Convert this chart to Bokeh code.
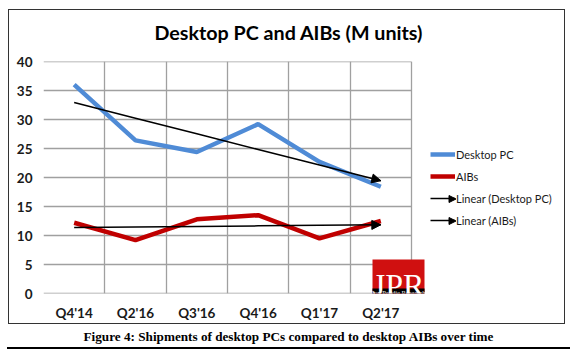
import numpy as np
from bokeh.plotting import figure
from bokeh.layouts import column
from bokeh.models import (FixedTicker, Legend, LegendItem, Label, BoxAnnotation,
                          Arrow, NormalHead, Range1d, Div)
from bokeh.embed import file_html
from bokeh.resources import INLINE

# ---- data ----
categories = ["Q4'14", "Q2'16", "Q3'16", "Q4'16", "Q1'17", "Q2'17"]
desktop_pc = [36.0, 26.4, 24.4, 29.2, 22.7, 18.4]
aibs = [12.2, 9.2, 12.8, 13.5, 9.5, 12.5]
y_ticks = [0, 5, 10, 15, 20, 25, 30, 35, 40]
title_text = "Desktop PC and AIBs (M units)"
caption_text = "Figure 4: Shipments of desktop PCs compared to desktop AIBs over time"

n = len(categories)
x = list(range(1, n + 1))

W, H = 557, 315
FL, FT, FR, FB = 34, 50, 1, 32
frame_w = W - FL - FR
px_per_cat = 61.33
x_end = 0.5 + frame_w / px_per_cat   # frame extends right to hold the legend

p = figure(width=W, height=H, output_backend="svg", toolbar_location=None,
           x_range=Range1d(0.5, x_end), y_range=Range1d(y_ticks[0], y_ticks[-1]),
           min_border_left=FL, min_border_top=FT, min_border_right=FR, min_border_bottom=FB)
p.outline_line_color = None
p.background_fill_color = "white"
p.border_fill_color = "white"
p.styles = {"border": "1.5px solid #333333"}

LABEL_FONT = "Lato"
TXT = "#1a1a1a"

p.title.text = title_text
p.title.text_font = LABEL_FONT
p.title.text_font_style = "bold"
p.title.text_font_size = "19.7px"
p.title.text_color = "black"
p.title.align = "left"
p.title.offset = 111
try:
    p.title.padding = dict(left=0, right=0, top=0, bottom=10)
    p.title.standoff = 16
except Exception:
    p.title.standoff = 26

p.xaxis.ticker = FixedTicker(ticks=x)
p.xaxis.major_label_overrides = {i: c for i, c in zip(x, categories)}
p.yaxis.ticker = FixedTicker(ticks=y_ticks)
for ax in (p.xaxis, p.yaxis):
    ax.axis_line_color = None
    ax.major_tick_line_color = None
    ax.minor_tick_line_color = None
    ax.major_tick_out = 0
    ax.major_tick_in = 0
    ax.minor_tick_out = 0
    ax.minor_tick_in = 0
    ax.major_label_text_font = LABEL_FONT
    ax.major_label_text_font_style = "bold"
    ax.major_label_text_font_size = "13.5px"
    ax.major_label_text_color = TXT
p.xaxis.major_label_standoff = 11
p.yaxis.major_label_standoff = 11

GRID = "#a0a0a0"
p.xgrid.ticker = FixedTicker(ticks=[i + 0.5 for i in range(0, n + 1)])
p.xgrid.grid_line_color = GRID
p.xgrid.grid_line_width = 1.3
p.ygrid.visible = False
p.segment(x0=[0.5] * len(y_ticks), x1=[n + 0.5] * len(y_ticks), y0=y_ticks, y1=y_ticks,
          line_color=GRID, line_width=1.3)

r_pc = p.line(x, desktop_pc, line_color="#4f8bd6", line_width=4.5)
r_aib = p.line(x, aibs, line_color="#c00000", line_width=4.5)

# linear trendlines
xa = np.array(x, dtype=float)
trend_renderers = []
for ser in (desktop_pc, aibs):
    m, b = np.polyfit(xa, np.array(ser), 1)
    ty = m * xa + b
    r = p.line(xa, ty, line_color="black", line_width=1.5)
    trend_renderers.append(r)
    p.add_layout(Arrow(end=NormalHead(size=9, fill_color="black", line_color="black"),
                       x_start=xa[-2], y_start=ty[-2], x_end=xa[-1], y_end=ty[-1],
                       line_color="black", line_width=1.5, line_alpha=0))

legend = Legend(items=[
    LegendItem(label="Desktop PC", renderers=[r_pc]),
    LegendItem(label="AIBs", renderers=[r_aib]),
    LegendItem(label="Linear (Desktop PC)", renderers=[trend_renderers[0]]),
    LegendItem(label="Linear (AIBs)", renderers=[trend_renderers[1]]),
], location=(387, 64), border_line_color=None, background_fill_alpha=0,
    glyph_width=25, glyph_height=18, label_height=18, spacing=4, padding=0,
    label_standoff=1, label_text_font=LABEL_FONT, label_text_font_size="11px",
    label_text_color=TXT, margin=0)
p.add_layout(legend, "center")

# arrowheads on legend trend samples
for yy in (188.5, 210.5):
    p.add_layout(Arrow(end=NormalHead(size=7, fill_color="black", line_color="black"),
                       x_start=440, y_start=yy, x_end=446.5, y_end=yy,
                       start_units="canvas", end_units="canvas", line_alpha=0))

# JPR logo
p.add_layout(BoxAnnotation(left=362, right=414, top=248, bottom=286,
                           left_units="canvas", right_units="canvas",
                           top_units="canvas", bottom_units="canvas",
                           fill_color="#d01010", fill_alpha=1, line_color=None, level="overlay"))
p.add_layout(BoxAnnotation(left=362, right=414, top=277, bottom=286,
                           left_units="canvas", right_units="canvas",
                           top_units="canvas", bottom_units="canvas",
                           fill_color="black", fill_alpha=1, line_color=None, level="overlay"))
p.add_layout(Label(x=388, y=273, x_units="canvas", y_units="canvas", text="JPR",
                   text_font="Liberation Serif", text_font_size="32px", text_color="white",
                   text_align="center", text_baseline="alphabetic", level="overlay"))
p.add_layout(Label(x=388, y=281, x_units="canvas", y_units="canvas",
                   text="Jon Peddie Research",
                   text_font="Liberation Sans Narrow", text_font_size="6.5px", text_color="white",
                   text_align="center", text_baseline="middle", level="overlay"))

# caption with underline
cap = Div(text=caption_text, width=563,
          styles={"font-family": "'Liberation Serif', serif", "font-weight": "bold",
                  "font-size": "13.2px", "line-height": "16px", "text-align": "center",
                  "color": "black", "border-bottom": "2px solid black",
                  "padding-bottom": "2px", "margin-left": "-1px"})

root = column(p, cap, spacing=0, styles={"padding-left": "8px", "padding-top": "9px"})
open("out.html", "w").write(file_html(root, INLINE))
